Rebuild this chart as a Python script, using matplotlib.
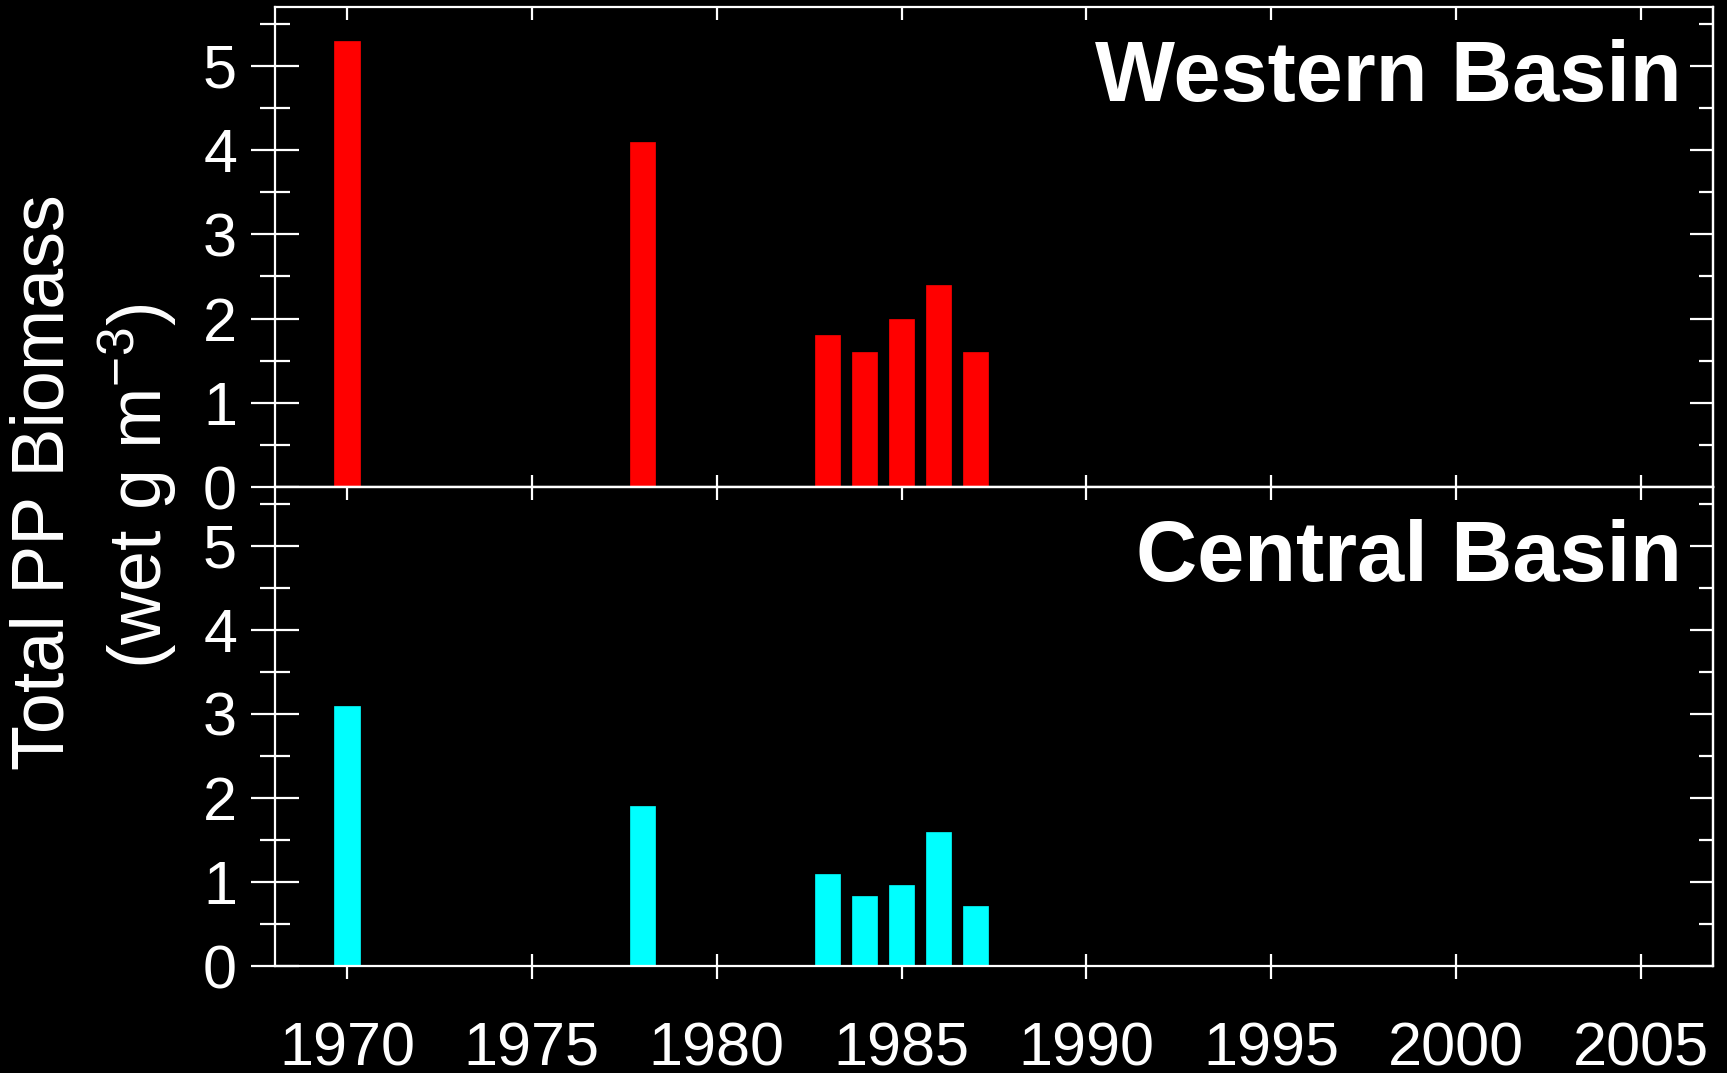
import matplotlib
matplotlib.use("Agg")
import matplotlib.pyplot as plt
from matplotlib.ticker import MultipleLocator

plt.rcParams['font.family'] = ['Liberation Sans', 'DejaVu Sans']
plt.rcParams['mathtext.fontset'] = 'custom'
plt.rcParams['mathtext.rm'] = 'Liberation Sans'
plt.rcParams['mathtext.it'] = 'Liberation Sans'

years = [1970, 1978, 1983, 1984, 1985, 1986, 1987]
western = [5.3, 4.1, 1.8, 1.6, 2.0, 2.4, 1.6]
central = [3.1, 1.9, 1.1, 0.83, 0.96, 1.6, 0.72]
xticks = [1970, 1975, 1980, 1985, 1990, 1995, 2000, 2005]
yticks = [0, 1, 2, 3, 4, 5]
titles = ["Western Basin", "Central Basin"]
colors = ["#ff0000", "#00ffff"]

fig = plt.figure(figsize=(17.27, 10.73), dpi=100, facecolor='black')
ax1 = fig.add_axes([0.1592, 0.5461, 0.8327, 0.4474])
ax2 = fig.add_axes([0.1592, 0.0997, 0.8327, 0.4464])

LW = 1.6
for i, (ax, vals) in enumerate(zip([ax1, ax2], [western, central])):
    ax.set_facecolor('black')
    ax.bar(years, vals, width=0.68, color=colors[i], edgecolor=colors[i], linewidth=0.5, zorder=2)
    ax.set_xlim(1968.05, 2006.95)
    ax.set_ylim(0, 5.7)
    for s in ax.spines.values():
        s.set_color('white')
        s.set_linewidth(LW)
        s.set_zorder(3)
    ax.set_yticks(yticks)
    ax.yaxis.set_minor_locator(MultipleLocator(0.5))
    ax.tick_params(axis='y', which='major', direction='inout', length=34.5, width=LW,
                   color='white', labelcolor='white', labelsize=44, pad=10, left=True, right=False)
    ax.tick_params(axis='y', which='minor', direction='inout', length=21.5, width=LW,
                   color='white', left=True, right=False)
    ax.set_xticks(xticks)
    # right-side inward ticks
    sec = ax.secondary_yaxis('right')
    sec.set_yticks(yticks)
    sec.yaxis.set_minor_locator(MultipleLocator(0.5))
    sec.tick_params(axis='y', which='major', direction='in', length=16.5, width=LW,
                    color='white', labelright=False)
    sec.tick_params(axis='y', which='minor', direction='in', length=10, width=LW, color='white')
    sec.spines['right'].set_color('white')
    sec.spines['right'].set_linewidth(LW)
    ax.text(0.9784, 0.804, titles[i], transform=ax.transAxes, ha='right', va='baseline',
            color='white', fontsize=61, fontweight='bold')

ax1.tick_params(axis='x', which='major', direction='in', length=9, width=LW, color='white',
                top=True, bottom=True, labelbottom=False)
ax2.tick_params(axis='x', which='major', direction='inout', length=18, width=LW, color='white',
                labelcolor='white', labelsize=44, pad=31, top=False, bottom=True)
sec_x = ax2.secondary_xaxis('top')
sec_x.set_xticks(xticks)
sec_x.tick_params(axis='x', which='major', direction='in', length=9, width=LW, color='white',
                  labeltop=False)
sec_x.spines['top'].set_color('white')
sec_x.spines['top'].set_linewidth(LW)

fig.text(44 / 1727, 1 - 482 / 1073, "Total PP Biomass", rotation=90, ha='center', va='center',
         color='white', fontsize=53)
fig.text(138 / 1727, 1 - 486 / 1073, "(wet g m$^{-3}$)", rotation=90, ha='center', va='center',
         color='white', fontsize=53)

fig.savefig("out.png", dpi=100, facecolor='black')
